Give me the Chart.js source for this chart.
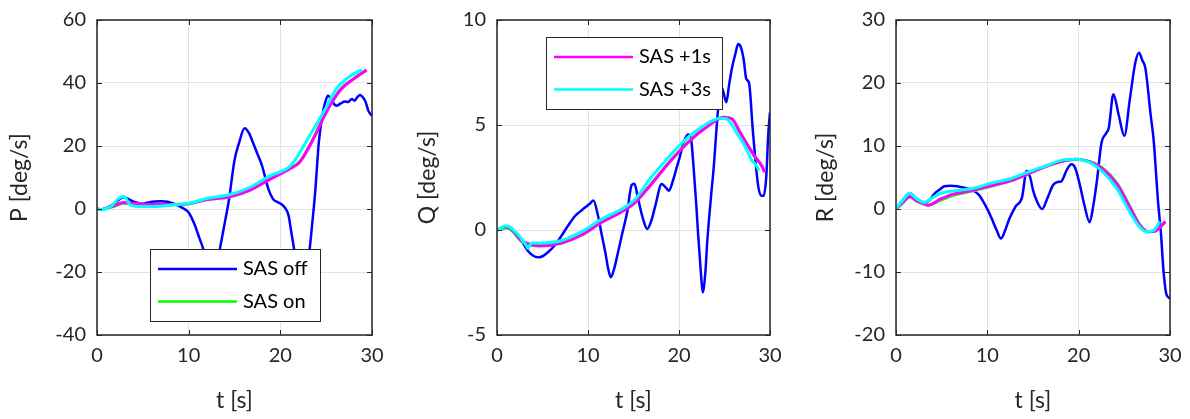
<!DOCTYPE html>
<html>
<head>
<meta charset="utf-8">
<script src="https://cdn.jsdelivr.net/npm/chart.js@4.4.1/dist/chart.umd.min.js"></script>
<style>
  body { margin: 0; background: #fff; width: 1190px; height: 419px; position: relative; overflow: hidden; }
  canvas { position: absolute; top: 0; }
</style>
</head>
<body>
<canvas id="pChart" width="395" height="419" style="left:0px"></canvas>
<canvas id="qChart" width="395" height="419" style="left:400px"></canvas>
<canvas id="rChart" width="390" height="419" style="left:800px"></canvas>
<script>
// P [deg/s]
const tPoff = [0,0.5,1,1.5,2,2.5,2.9,3.4,3.8,4.4,4.9,5.6,6.3,7.0,7.7,8.3,8.9,9.5,10.0,10.7,11.2,11.6,12.1,12.6,13.0,13.4,13.9,14.4,15.0,15.5,16.1,16.6,17.0,17.5,18.0,18.7,19.2,19.7,20.1,20.6,20.9,21.2,21.5,22.0,22.4,22.8,23.2,23.5,23.8,24.2,24.6,24.9,25.2,25.6,26.1,26.6,27.0,27.4,27.8,28.1,28.4,28.7,29.0,29.3,29.6,30.0];
const pOff = [0,-0.2,0.3,1.0,2.0,3.2,3.7,3.2,2.6,2.0,1.7,2.1,2.4,2.5,2.3,1.8,1.0,0.1,-1.1,-5.3,-9.5,-12.7,-18,-22,-19,-12.7,-5,3,15.5,21,25.6,24,21.2,17.5,13.8,6.3,3.2,2.2,1.6,0,-2.1,-7.4,-12.7,-22,-26,-22,-12.7,-4,5.3,21.2,30,33.9,36,34.4,32.8,33.5,34.1,34.0,34.9,34.4,35.5,36.2,35.5,34.0,31.2,29.6];
const tPon = [0,0.5,1,1.8,2.9,3.4,4.9,7,10,12,14.5,16.7,18.9,21,22.1,23.6,25,26.5,28,29.4];
const pOn = [0,-0.2,0.2,0.8,1.8,1.8,1.5,1.3,1.7,3.0,3.9,6.0,9.6,12.8,15.0,22.4,30.8,37.7,41.4,44.1];
const tP1 = [0,0.5,1,1.8,2.9,3.4,4.9,7,10,12,14.5,16.7,18.9,21,22.1,23.6,25,26.5,28,29.4];
const pP1 = [0,-0.2,0.3,1.0,2.1,1.9,1.6,1.4,1.7,3.0,3.9,6.0,9.5,12.7,14.8,22.2,30.7,37.6,41.3,44.1];
const tP3 = [0,0.5,1,1.6,2.3,2.9,3.2,3.6,4.5,6.3,8.1,10.2,12.1,14.5,16.7,18.9,20.9,21.8,23.2,24.7,26.1,27.2,28.0,28.9];
const pP3 = [0,-0.2,0.2,1.0,3.2,4.0,3.2,1.3,0.8,0.8,1.3,1.9,3.4,4.6,6.9,10.6,13.2,16.4,23.3,30.7,38.1,41.3,42.9,44.2];

// Q [deg/s]
const tQoff = [0,0.5,0.9,1.4,1.8,2.3,2.7,3.1,3.4,3.9,4.5,5.0,5.6,6.3,7.1,7.8,8.6,9.2,9.7,10.2,10.6,11.1,11.5,11.9,12.2,12.5,12.9,13.3,13.8,14.3,14.8,15.1,15.5,16.0,16.5,17.0,17.4,18.1,18.6,18.9,19.3,19.7,20.1,20.5,21.0,21.3,21.6,21.9,22.1,22.4,22.6,22.9,23.1,23.5,23.8,24.3,24.7,25.2,25.5,25.8,26.2,26.5,26.8,27.1,27.4,27.7,28.1,28.4,28.7,29.0,29.3,29.6,29.8,30.0];
const qOff = [0,0.1,0.15,0.1,-0.05,-0.25,-0.5,-0.8,-1.0,-1.2,-1.3,-1.25,-1.06,-0.75,-0.27,0.2,0.68,0.9,1.08,1.25,1.4,0.68,-0.2,-1.06,-1.8,-2.25,-1.8,-1.06,-0.1,0.84,2.14,2.2,1.5,0.6,0.05,0.5,1.16,2.19,2.0,1.87,2.3,2.9,3.5,4.17,4.55,4.4,3.0,1.2,-0.2,-2.0,-2.97,-2.0,-0.59,1.5,2.9,5.76,6.8,6.08,6.9,7.67,8.4,8.86,8.7,8.14,7.19,7.0,4.8,3.3,2.1,1.65,1.63,2.6,4.5,5.6];
const tQon = [0,0.5,0.9,1.4,1.8,2.7,3.8,4.7,7.1,9.3,11.5,13.7,15.2,16.8,19.0,21.2,23.0,24.9,25.8,26.7,27.6,28.4,29.1,29.4];
const qOn = [0,0.05,0.1,0.05,-0.1,-0.55,-0.74,-0.76,-0.62,-0.24,0.37,0.88,1.33,2.12,3.27,4.27,4.9,5.37,5.3,4.66,4.0,3.45,3.05,2.75];
const tQ1 = [0,0.5,0.9,1.4,1.8,2.7,3.8,4.7,7.1,9.3,11.5,13.7,15.2,16.8,19.0,21.2,23.0,24.9,25.8,26.7,27.6,28.4,29.1,29.4];
const qP1 = [0,0.1,0.15,0.1,-0.05,-0.5,-0.71,-0.75,-0.62,-0.24,0.37,0.87,1.32,2.1,3.25,4.25,4.89,5.37,5.3,4.65,4.0,3.46,3.06,2.75];
const tQ3 = [0,0.5,0.9,1.4,1.8,2.3,2.7,3.1,3.4,3.8,4.7,7.1,9.3,11.5,13.7,15.2,16.8,19.0,21.2,23.0,24.5,25.2,26.3,27.4,28.0,28.4,28.8];
const qP3 = [0,0.1,0.2,0.15,0,-0.2,-0.43,-0.65,-0.87,-0.62,-0.62,-0.5,-0.08,0.52,1.0,1.48,2.43,3.54,4.49,5.05,5.32,5.3,4.65,3.86,3.3,3.14,2.83];

// R [deg/s]
const tRoff = [0,0.7,1.5,2.3,3.1,3.6,4.2,4.8,5.3,6.0,6.7,7.4,8.0,8.5,9.1,9.6,10.1,10.5,11.0,11.5,12.0,12.4,13.1,13.8,14.3,14.7,15.0,15.5,16.0,16.6,17.2,17.7,18.1,18.7,19.2,19.6,20.1,20.6,21.2,21.6,22.0,22.5,23.0,23.3,23.8,24.4,25.0,25.6,26.2,26.6,27.0,27.3,27.9,28.2,28.7,29.0,29.3,29.6,30.0];
const rOff = [0,1.3,2.5,1.6,1.05,1.3,2.4,3.1,3.6,3.7,3.6,3.4,3.2,2.9,2.2,1.05,-0.3,-1.6,-3.3,-4.7,-3.2,-1.6,0.4,1.85,6.05,5.0,3.0,1.0,0,1.8,3.8,4.3,4.4,6.2,7.1,6.6,4.0,0.8,-2.1,0.5,4.5,10.5,12.0,12.9,18.2,14.8,11.6,17.4,23.2,24.8,23.5,22.4,14.7,11.1,1.0,-3.7,-10,-13.5,-14.2];
const tRon = [0,0.7,1.5,2.3,3.1,3.5,4.9,6.35,8.2,10.4,12.6,14.8,16.5,18.3,19.75,21.2,22.7,24.2,25.6,26.7,27.6,28.4,29.1,29.5];
const rOn = [0,0.9,1.9,1.2,0.8,0.6,1.4,2.2,2.8,3.6,4.5,5.8,6.8,7.6,7.9,7.5,6.4,4.1,0.4,-2.5,-3.6,-3.5,-2.6,-2.0];
const tR1 = [0,0.7,1.5,2.3,3.1,3.5,4.9,6.35,8.2,10.4,12.6,14.8,16.5,18.3,19.75,21.2,22.7,24.2,25.6,26.7,27.6,28.4,29.1,29.5];
const rP1 = [0,1.0,2.0,1.3,0.8,0.6,1.6,2.4,2.9,3.7,4.5,5.8,6.8,7.6,7.9,7.5,6.3,3.9,0.25,-2.6,-3.6,-3.5,-2.6,-2.0];
const tR3 = [0,0.7,1.5,2.3,3.1,3.8,4.9,6.35,8.2,10.4,12.6,14.8,16.5,18.3,19.75,21.2,22.7,24.2,25.6,26.7,27.4,28.2,28.9];
const rP3 = [0,1.3,2.5,1.6,1.05,1.6,2.5,2.9,3.2,4.1,4.85,6.05,6.9,7.8,7.9,7.4,5.8,3.2,-0.5,-2.9,-3.6,-3.4,-2.0];

const seriesNames = ["SAS off", "SAS on", "SAS +1s", "SAS +3s"];
const seriesColors = ["#0000ff", "#00ff00", "#ff00ff", "#00ffff"];

Chart.defaults.font.family = "Lato, 'Open Sans', sans-serif";
Chart.defaults.color = "#262626";

function pts(t, v) {
  return t.map((x, i) => ({ x: x, y: v[i] }));
}

// MATLAB style box, inward ticks and an opaque legend inside the axes
const boxPlugin = {
  id: "matlabBox",
  afterDatasetsDraw(chart, args, opts) {
    const ctx = chart.ctx;
    const a = chart.chartArea;
    ctx.save();
    const lg = opts.legend;
    if (lg) {
      const x0 = a.left + lg.dx, y0 = a.top + lg.dy;
      ctx.fillStyle = "#fff";
      ctx.fillRect(x0, y0, lg.w, lg.h);
      ctx.strokeStyle = "#262626";
      ctx.lineWidth = 1;
      ctx.strokeRect(x0 + 0.5, y0 + 0.5, lg.w, lg.h);
      lg.items.forEach((di, i) => {
        const ds = chart.data.datasets[di];
        const yy = y0 + 20 + i * 32.5;
        ctx.strokeStyle = ds.borderColor;
        ctx.lineWidth = 2.5;
        ctx.beginPath();
        ctx.moveTo(x0 + 8, yy);
        ctx.lineTo(x0 + 87, yy);
        ctx.stroke();
        ctx.fillStyle = "#000";
        ctx.font = "20px Lato, 'Open Sans', sans-serif";
        ctx.textBaseline = "middle";
        ctx.textAlign = "left";
        ctx.fillText(ds.label, x0 + 93, yy);
      });
    }
    ctx.strokeStyle = "#262626";
    ctx.lineWidth = 1;
    const xs = chart.scales.x, ys = chart.scales.y;
    ctx.beginPath();
    xs.ticks.forEach(tk => {
      const px = Math.round(xs.getPixelForValue(tk.value)) + 0.5;
      ctx.moveTo(px, a.bottom); ctx.lineTo(px, a.bottom - 5);
      ctx.moveTo(px, a.top); ctx.lineTo(px, a.top + 5);
    });
    ys.ticks.forEach(tk => {
      const py = Math.round(ys.getPixelForValue(tk.value)) + 0.5;
      ctx.moveTo(a.left, py); ctx.lineTo(a.left + 5, py);
      ctx.moveTo(a.right, py); ctx.lineTo(a.right - 5, py);
    });
    ctx.stroke();
    ctx.lineWidth = 1.5;
    ctx.strokeRect(a.left, a.top, a.right - a.left, a.bottom - a.top);
    ctx.restore();
  }
};

function makeChart(id, sets, yTitle, yMin, yMax, yStep, yWidth, titlePad, padRight, legend) {
  const datasets = sets.map((s, i) => ({
    label: seriesNames[i],
    data: pts(s[0], s[1]),
    borderColor: seriesColors[i],
    borderWidth: i === 0 ? 2.5 : 3,
    pointRadius: 0,
    fill: false,
    cubicInterpolationMode: "monotone",
    order: 4 - i
  }));
  return new Chart(document.getElementById(id), {
    type: "line",
    data: { datasets: datasets },
    plugins: [boxPlugin],
    options: {
      responsive: false,
      animation: false,
      layout: { padding: { left: 0, right: padRight, top: 20, bottom: 0 } },
      plugins: {
        legend: { display: false },
        tooltip: { enabled: false },
        matlabBox: { legend: legend }
      },
      scales: {
        x: {
          type: "linear",
          min: 0, max: 30,
          ticks: { stepSize: 10, padding: 9, font: { size: 20 } },
          grid: { color: "#e3e3e3", drawTicks: false },
          border: { display: false },
          title: { display: true, text: "t [s]", font: { size: 23 }, padding: { top: 0, bottom: 5 } },
          afterFit(s) { s.height = 84; s.paddingLeft = 0; s.paddingRight = 0; }
        },
        y: {
          min: yMin, max: yMax,
          ticks: { stepSize: yStep, padding: 11, font: { size: 20 } },
          grid: { color: "#e3e3e3", drawTicks: false },
          border: { display: false },
          title: { display: true, text: yTitle, font: { size: 23 }, padding: { top: titlePad, bottom: 0 } },
          afterFit(s) { s.width = yWidth; s.paddingTop = 0; s.paddingBottom = 0; }
        }
      }
    }
  });
}

makeChart("pChart", [[tPoff, pOff], [tPon, pOn], [tP1, pP1], [tP3, pP3]],
  "P [deg/s]", -40, 60, 20, 97, 6, 23,
  { dx: 53, dy: 229, w: 170, h: 72, items: [0, 1] });
makeChart("qChart", [[tQoff, qOff], [tQon, qOn], [tQ1, qP1], [tQ3, qP3]],
  "Q [deg/s]", -5, 10, 5, 97, 14, 25,
  { dx: 49, dy: 17, w: 176, h: 72, items: [2, 3] });
makeChart("rChart", [[tRoff, rOff], [tRon, rOn], [tR1, rP1], [tR3, rP3]],
  "R [deg/s]", -20, 30, 10, 96, 12, 20, null);
</script>
</body>
</html>
